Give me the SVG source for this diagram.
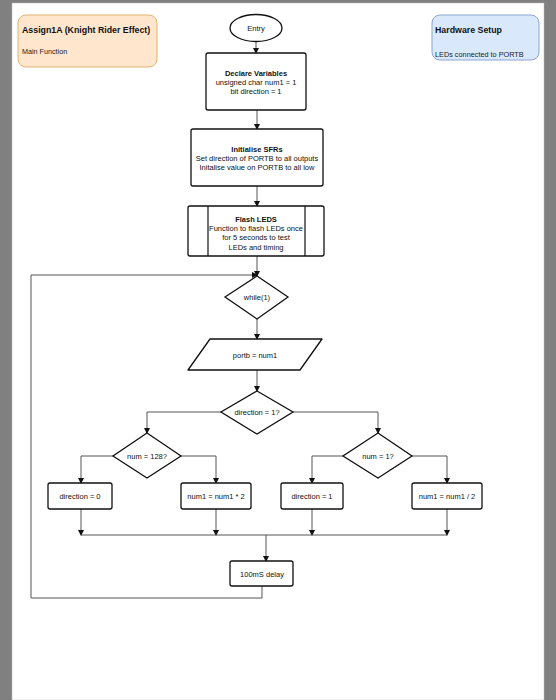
<svg xmlns="http://www.w3.org/2000/svg" width="556" height="700" viewBox="0 0 556 700">
<defs>
<style>
.t{font-family:"Liberation Sans",Arial,sans-serif;font-size:7.5px;fill:#111;text-anchor:middle}
.b{font-weight:bold}
.s{fill:#fff;stroke:#111;stroke-width:1.3}
.c{fill:none;stroke:#555;stroke-width:1}
</style>
<marker id="a" markerWidth="6" markerHeight="6" refX="5" refY="3" orient="auto" markerUnits="userSpaceOnUse">
<path d="M0,0 L6,3 L0,6 Z" fill="#111"/>
</marker>
</defs>
<rect x="0" y="0" width="556" height="700" fill="#808080"/>
<rect x="12" y="3" width="532" height="697" fill="#fff" stroke="#bbb" stroke-width="0.5"/>

<g id="title-card">
<rect x="18" y="15" width="139" height="52" rx="8" fill="#ffe6cc" stroke="#e3b36f" stroke-width="1"/>
<text x="22" y="33" style="font-family:'Liberation Sans',Arial,sans-serif;font-size:8.8px;font-weight:bold;fill:#111">Assign1A (Knight Rider Effect)</text>
<text x="22" y="54" style="font-family:'Liberation Sans',Arial,sans-serif;font-size:7.2px;fill:#222">Main Function</text>
</g>
<g id="hardware-card">
<rect x="432" y="15" width="107" height="45" rx="8" fill="#dae8fc" stroke="#8ca6cf" stroke-width="1"/>
<text x="435" y="33" style="font-family:'Liberation Sans',Arial,sans-serif;font-size:8.8px;font-weight:bold;fill:#111">Hardware Setup</text>
<text x="435" y="57" style="font-family:'Liberation Sans',Arial,sans-serif;font-size:7.3px;fill:#222">LEDs connected to PORTB</text>
</g>

<g id="connectors">
<path class="c" d="M256,42 V53" marker-end="url(#a)"/>
<path class="c" d="M257,110 V129" marker-end="url(#a)"/>
<path class="c" d="M257,186 V206" marker-end="url(#a)"/>
<path class="c" d="M257,256 V276" marker-end="url(#a)"/>
<path class="c" d="M257,319 V339" marker-end="url(#a)"/>
<path class="c" d="M257,370 V391" marker-end="url(#a)"/>
<path class="c" d="M221,412 H147 V433" marker-end="url(#a)"/>
<path class="c" d="M293,412 H378 V433" marker-end="url(#a)"/>
<path class="c" d="M113,456 H81 V483" marker-end="url(#a)"/>
<path class="c" d="M181,456 H216 V483" marker-end="url(#a)"/>
<path class="c" d="M343,456 H312 V483" marker-end="url(#a)"/>
<path class="c" d="M412,456 H447 V483" marker-end="url(#a)"/>
<path class="c" d="M81,509 V535" marker-end="url(#a)"/>
<path class="c" d="M216,509 V535" marker-end="url(#a)"/>
<path class="c" d="M312,509 V535" marker-end="url(#a)"/>
<path class="c" d="M447,509 V535" marker-end="url(#a)"/>
<path class="c" d="M81,535 H447"/>
<path class="c" d="M266,535 V561" marker-end="url(#a)"/>
<path class="c" d="M262,586 V598 H31 V275 H257" marker-end="url(#a)"/>
</g>

<g id="entry">
<ellipse cx="256" cy="28" rx="26" ry="13.5" class="s"/>
<text class="t" x="256" y="30.7">Entry</text>
</g>
<g id="declare">
<rect x="206" y="53" width="100" height="57" rx="2" class="s"/>
<text class="t b" x="256" y="75.5">Declare Variables</text>
<text class="t" x="256" y="84.5">unsigned char num1 = 1</text>
<text class="t" x="256" y="93.5">bit direction = 1</text>
</g>
<g id="init">
<rect x="191" y="129" width="132" height="57" rx="2" class="s"/>
<text class="t b" x="257" y="151.5">Initialise SFRs</text>
<text class="t" x="257" y="160.5">Set direction of PORTB to all outputs</text>
<text class="t" x="257" y="169.5">Initalise value on PORTB to all low</text>
</g>
<g id="flash">
<rect x="188" y="206" width="136" height="50" rx="2" class="s"/>
<path d="M208,206 V256 M305,206 V256" stroke="#111" stroke-width="1.2"/>
<text class="t b" x="256" y="221.5">Flash LEDS</text>
<text class="t" x="256" y="230.5">Function to flash LEDs once</text>
<text class="t" x="256" y="240">for 5 seconds to test</text>
<text class="t" x="256" y="249.5">LEDs and timing</text>
</g>
<g id="while">
<path d="M257,276 L288,297 L257,319 L225,297 Z" class="s"/>
<text class="t" x="257" y="300">while(1)</text>
</g>
<g id="portb">
<path d="M210,339 L322,339 L300,370 L188,370 Z" class="s" stroke-linejoin="round"/>
<text class="t" x="255" y="357.5">portb = num1</text>
</g>
<g id="direction-check">
<path d="M257,391 L293,412 L257,434 L221,412 Z" class="s"/>
<text class="t" x="257" y="415">direction = 1?</text>
</g>
<g id="num128">
<path d="M147,433 L181,456 L147,478 L113,456 Z" class="s"/>
<text class="t" x="147" y="459">num = 128?</text>
</g>
<g id="num1">
<path d="M378,433 L412,456 L378,478 L343,456 Z" class="s"/>
<text class="t" x="378" y="459">num = 1?</text>
</g>
<g id="dir0">
<rect x="48" y="483" width="64" height="26" rx="2" class="s"/>
<text class="t" x="80" y="499">direction = 0</text>
</g>
<g id="mul2">
<rect x="181" y="483" width="70" height="26" rx="2" class="s"/>
<text class="t" x="216" y="499">num1 = num1 * 2</text>
</g>
<g id="dir1">
<rect x="281" y="483" width="62" height="26" rx="2" class="s"/>
<text class="t" x="312" y="499">direction = 1</text>
</g>
<g id="div2">
<rect x="412" y="483" width="70" height="26" rx="2" class="s"/>
<text class="t" x="447" y="499">num1 = num1 / 2</text>
</g>
<g id="delay">
<rect x="230" y="561" width="63" height="25" rx="2" class="s"/>
<text class="t" x="262" y="576.5">100mS delay</text>
</g>
</svg>
